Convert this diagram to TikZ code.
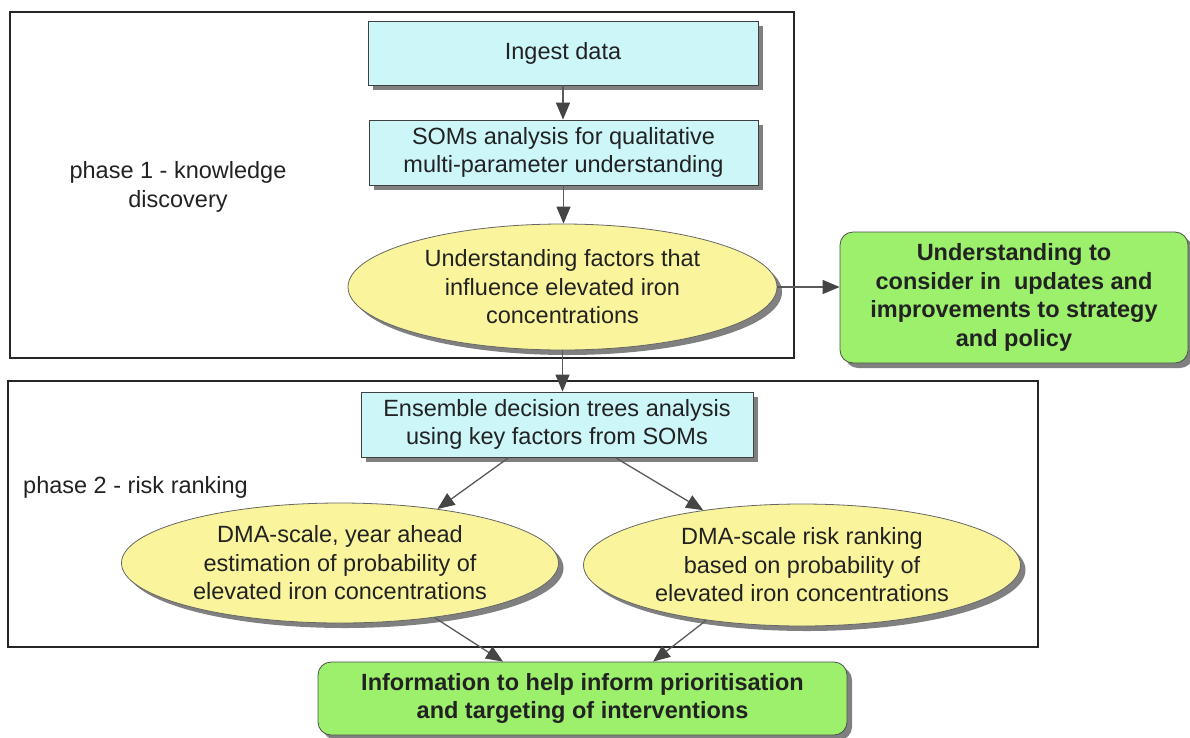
\documentclass[tikz,border=0pt]{standalone}
\usepackage{fontspec}
\setmainfont{Liberation Sans}
\usetikzlibrary{shapes.geometric,shadows,arrows.meta,calc}
\definecolor{boxcyan}{HTML}{CCF6F8}
\definecolor{elyellow}{HTML}{FAF59C}
\definecolor{boxgreen}{HTML}{9CF06C}
\definecolor{shadowgray}{HTML}{808080}
\definecolor{linegray}{HTML}{5A5A5A}
\definecolor{tipgray}{HTML}{454545}
\definecolor{txt}{HTML}{222222}
\tikzset{
  x=1pt, y=-1pt,
  basefont/.style={font=\fontsize{23.5}{28.5}\selectfont, text=txt, align=center, inner sep=0pt},
  shad/.style={drop shadow={shadow xshift=5pt, shadow yshift=-5pt, fill=shadowgray, opacity=1}},
  cyanbox/.style={basefont, rectangle, draw=black!75, line width=0.8pt, fill=boxcyan, shad},
  yellowell/.style={basefont, ellipse, draw=black!60, line width=0.8pt, fill=elyellow, shad},
  greenbox/.style={basefont, font=\fontsize{23.5}{28.5}\selectfont\bfseries, rectangle, rounded corners=13pt, draw=black!70, line width=0.8pt, fill=boxgreen, shad},
  phasebox/.style={draw=black!85, line width=1.2pt},
  conn/.style={draw=linegray, line width=1.3pt, -{Triangle[length=17pt,width=14pt,fill=tipgray,color=tipgray]}},
  plabel/.style={basefont}
}
\begin{document}
\begin{tikzpicture}
\useasboundingbox (0,0) rectangle (1190,737);
% phase frames
\draw[phasebox] (10,12) rectangle (794,358);
\draw[phasebox] (8,381) rectangle (1038,647);
% labels
\node[plabel] (p1) at (178,187) {phase 1 - knowledge\\discovery};
\node[plabel, anchor=west] (p2) at (23,487) {phase 2 - risk ranking};
% nodes
\node[cyanbox, minimum width=390pt, minimum height=64pt] (ingest) at (563,53) {Ingest data};
\node[cyanbox, minimum width=389pt, minimum height=65pt] (soms) at (563.5,152.5) {SOMs analysis for qualitative\\multi-parameter understanding};
\node[yellowell, minimum width=429pt, minimum height=126pt] (e1) at (562.5,287) {Understanding factors that\\influence elevated iron\\concentrations};
\node[greenbox, minimum width=348pt, minimum height=131pt] (g1) at (1014,297.5) {Understanding to\\consider in \ updates and\\improvements to strategy\\and policy};
\node[cyanbox, minimum width=392pt, minimum height=65pt] (ens) at (557,424.5) {Ensemble decision trees analysis\\using key factors from SOMs};
\node[yellowell, minimum width=437pt, minimum height=120pt] (eL) at (340,563) {DMA-scale, year ahead\\estimation of probability of\\elevated iron concentrations};
\node[yellowell, minimum width=437pt, minimum height=122pt] (eR) at (802,565) {DMA-scale risk ranking\\based on probability of\\elevated iron concentrations};
\node[greenbox, minimum width=529pt, minimum height=73pt] (g2) at (582.5,698.5) {Information to help inform prioritisation\\and targeting of interventions};
% connectors
\draw[conn] (ingest.south) -- (ingest.south |- soms.north);
\draw[conn] (soms.south) -- (soms.south |- e1.north);
\draw[conn] (e1.south) -- (e1.south |- ens.north);
\draw[conn] (e1.east) -- (e1.east -| g1.west);
\draw[conn] ([xshift=-48pt]ens.south) -- (eL.29);
\draw[conn] ([xshift=58pt]ens.south) -- (eR.151);
\draw[conn] (eL.-30) -- ([xshift=-79.5pt]g2.north);
\draw[conn] (eR.210) -- ([xshift=70.5pt]g2.north);
\end{tikzpicture}
\end{document}
